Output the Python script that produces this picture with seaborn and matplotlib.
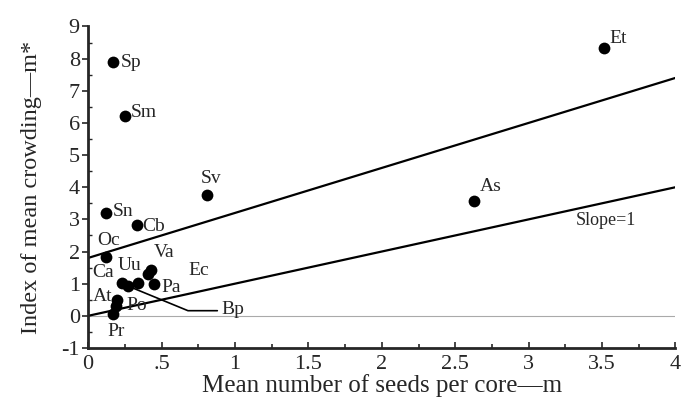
import numpy as np
import pandas as pd
import matplotlib
matplotlib.use("Agg")
import matplotlib.pyplot as plt
import seaborn as sns
from matplotlib.ticker import MultipleLocator

# Species codes with mean seeds per core (m) and mean crowding (m*)
species = ["Sp", "Sm", "Sv", "Et", "As", "Sn", "Cb", "Oc",
           "Ca", "Bp", "Uu", "Ec", "Va", "Pa", "At", "Po", "Pr"]
mean_seeds = [0.17, 0.25, 0.81, 3.51, 2.63, 0.12, 0.33, 0.12,
              0.23, 0.27, 0.34, 0.41, 0.43, 0.45, 0.20, 0.19, 0.17]
mean_crowding = [7.88, 6.20, 3.77, 8.32, 3.58, 3.21, 2.83, 1.84,
                 1.03, 0.93, 1.03, 1.30, 1.43, 1.00, 0.50, 0.30, 0.06]

# Reference lines: fitted line and the m* = m line (slope 1)
line_names = ["fit", "Slope=1"]
line_intercepts = [1.80, 0.0]
line_slopes = [1.40, 1.0]

# Label anchor positions (data units) for each species code
label_x = [0.22, 0.29, 0.77, 3.55, 2.67, 0.17, 0.37, 0.06,
           0.03, 0.91, 0.20, 0.68, 0.45, 0.50, 0.03, 0.26, 0.13]
label_y = [7.88, 6.32, 4.27, 8.62, 4.02, 3.26, 2.77, 2.33,
           1.34, 0.19, 1.56, 1.40, 1.96, 0.87, 0.59, 0.31, -0.50]

x_ticks = [0, 0.5, 1, 1.5, 2, 2.5, 3, 3.5, 4]
x_tick_labels = ["0", ".5", "1", "1.5", "2", "2.5", "3", "3.5", "4"]
y_ticks = list(range(-1, 10))

sns.set_style("ticks")
plt.rcParams["font.family"] = ["Liberation Serif", "DejaVu Serif"]
plt.rcParams["axes.unicode_minus"] = False

fig = plt.figure(figsize=(6.83, 4.07), dpi=100)
ax = fig.add_axes([0.129, 0.145, 0.86, 0.79])

df = pd.DataFrame({"m": mean_seeds, "mstar": mean_crowding, "code": species})

# zero reference
ax.axhline(0, color="#aaaaaa", lw=0.8, zorder=0)

# straight lines across the full x range
xs = np.array([0.0, 4.0])
for name, b, k in zip(line_names, line_intercepts, line_slopes):
    lines_df = pd.DataFrame({"x": xs, "y": b + k * xs})
    sns.lineplot(data=lines_df, x="x", y="y", color="black", lw=1.6, ax=ax)

sns.scatterplot(data=df, x="m", y="mstar", color="black", s=72,
                edgecolor="black", linewidth=0, ax=ax, zorder=3)

# leader line for Bp
bp = species.index("Bp")
ax.plot([mean_seeds[bp], 0.68, 0.88], [mean_crowding[bp], 0.16, 0.16],
        color="black", lw=1.2)

for code, lx, ly in zip(species, label_x, label_y):
    ax.text(lx, ly, code, fontsize=14, ha="left", va="center")

ax.text(3.32, 2.95, "Slope=1", fontsize=13, ha="left", va="center")

ax.set_xlim(0, 4)
ax.set_ylim(-1, 9)
ax.set_xticks(x_ticks)
ax.set_xticklabels(x_tick_labels)
ax.set_yticks(y_ticks)
ax.xaxis.set_minor_locator(MultipleLocator(0.25))
ax.yaxis.set_minor_locator(MultipleLocator(0.5))
ax.tick_params(axis="x", which="both", direction="in", length=4, width=1.2,
               labelsize=16, pad=5)
ax.tick_params(axis="x", which="minor", length=3)
ax.tick_params(axis="y", which="major", direction="out", length=4, width=1.2,
               labelsize=16, pad=2)
ax.tick_params(axis="y", which="minor", direction="in", length=3, width=1)

for side in ["top", "right"]:
    ax.spines[side].set_visible(False)
for side in ["left", "bottom"]:
    ax.spines[side].set_linewidth(2)

ax.set_xlabel("Mean number of seeds per core—m", fontsize=18, labelpad=0)
ax.set_ylabel("Index of mean crowding—m*", fontsize=17.5, labelpad=14)

fig.savefig("out.png", dpi=100)
